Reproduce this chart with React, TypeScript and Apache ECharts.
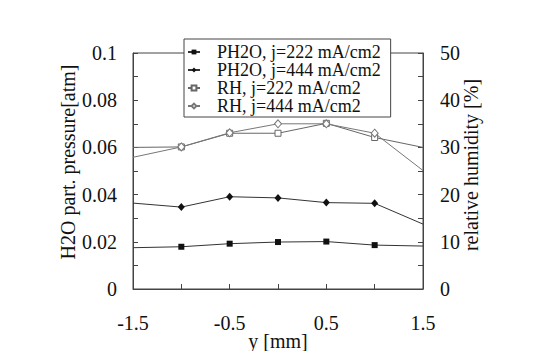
import React, { useEffect, useRef } from "react";
import * as echarts from "echarts";

const xPositions = [-1.5, -1, -0.5, 0, 0.5, 1, 1.5];
const ph2o222 = [0.0175, 0.0179, 0.0192, 0.0199, 0.0201, 0.0186, 0.0182];
const ph2o444 = [0.0364, 0.0347, 0.0391, 0.0386, 0.0366, 0.0363, 0.0275];
const rh222 = [30.0, 30.1, 33.0, 33.0, 35.1, 32.1, 30.0];
const rh444 = [27.9, 30.1, 33.1, 35.0, 35.0, 33.0, 25.1];
const seriesNames = [
  "PH2O, j=222 mA/cm2",
  "PH2O, j=444 mA/cm2",
  "RH, j=222 mA/cm2",
  "RH, j=444 mA/cm2",
];

const FONT = "Liberation Serif";

function toData(values: number[]) {
  return values.map((v, i) => {
    const edge = i === 0 || i === values.length - 1;
    return edge ? { value: [xPositions[i], v], symbol: "none" } : { value: [xPositions[i], v] };
  });
}

export default function App() {
  const ref = useRef<HTMLDivElement>(null);
  useEffect(() => {
    document.body.style.margin = "0";
    if (!ref.current) return;
    const chart = echarts.init(ref.current, undefined, { renderer: "svg" });
    const axisColor = "#444";
    const textColor = "#111";
    const tickCommon = {
      nameMoveOverlap: false,
      axisLine: { show: true, onZero: false, lineStyle: { color: axisColor, width: 1 } },
      axisTick: { show: true, inside: true, length: 5, lineStyle: { color: axisColor } },
      minorTick: { show: true, splitNumber: 2, length: 5, lineStyle: { color: axisColor } },
      splitLine: { show: false },
      axisLabel: { color: textColor, fontFamily: FONT, fontSize: 20 },
      nameTextStyle: { color: textColor, fontFamily: FONT, fontSize: 20 },
    };
    chart.setOption({
      animation: false,
      backgroundColor: "#fff",
      textStyle: { fontFamily: FONT },
      grid: {
        left: 133,
        right: 116,
        top: 53,
        bottom: 62,
        containLabel: false,
        outerBoundsMode: "none",
        show: true,
        borderColor: axisColor,
        borderWidth: 1,
        backgroundColor: "transparent",
      },
      legend: {
        orient: "vertical",
        left: 184,
        top: 39,
        data: seriesNames,
        backgroundColor: "#fff",
        borderColor: axisColor,
        borderWidth: 1,
        borderRadius: 0,
        padding: [4, 10, 2, 3],
        itemGap: 0,
        itemWidth: 12,
        itemHeight: 6,
        textStyle: { color: textColor, fontFamily: FONT, fontSize: 18, lineHeight: 17, padding: [0, 0, 0, 12] },
      },
      xAxis: {
        type: "value",
        min: -1.5,
        max: 1.5,
        interval: 1,
        name: "y [mm]",
        nameLocation: "middle",
        nameGap: 42,
        ...tickCommon,
        axisLabel: { ...tickCommon.axisLabel, margin: 24 },
      },
      yAxis: [
        {
          type: "value",
          min: 0,
          max: 0.1,
          interval: 0.02,
          name: "H2O part. pressure[atm]",
          nameLocation: "middle",
          nameRotate: 90,
          nameGap: 55,
          ...tickCommon,
          nameTextStyle: { ...tickCommon.nameTextStyle, padding: [0, 0, 0, 18] },
          axisLabel: { ...tickCommon.axisLabel, margin: 16 },
        },
        {
          type: "value",
          position: "right",
          min: 0,
          max: 50,
          interval: 10,
          name: "relative humidity [%]",
          nameLocation: "middle",
          nameRotate: 90,
          nameGap: 38,
          ...tickCommon,
          nameTextStyle: { ...tickCommon.nameTextStyle, padding: [0, 0, 0, 12] },
          axisLabel: { ...tickCommon.axisLabel, margin: 17 },
        },
      ],
      series: [
        {
          name: seriesNames[0],
          type: "line",
          yAxisIndex: 0,
          data: toData(ph2o222),
          symbol: "rect",
          symbolSize: 6,
          lineStyle: { color: "#333", width: 1 },
          itemStyle: { color: "#111", borderColor: "#111", borderWidth: 0 },
        },
        {
          name: seriesNames[1],
          type: "line",
          yAxisIndex: 0,
          data: toData(ph2o444),
          symbol: "diamond",
          symbolSize: [7, 8],
          lineStyle: { color: "#333", width: 1 },
          itemStyle: { color: "#111", borderColor: "#111", borderWidth: 0 },
        },
        {
          name: seriesNames[2],
          type: "line",
          yAxisIndex: 1,
          data: toData(rh222),
          symbol: "rect",
          symbolSize: 6,
          lineStyle: { color: "#666", width: 1 },
          itemStyle: { color: "#fff", borderColor: "#666", borderWidth: 1 },
        },
        {
          name: seriesNames[3],
          type: "line",
          yAxisIndex: 1,
          data: toData(rh444),
          symbol: "diamond",
          symbolSize: [7, 8],
          lineStyle: { color: "#777", width: 1 },
          itemStyle: { color: "#fff", borderColor: "#777", borderWidth: 1 },
        },
      ],
    });
    return () => chart.dispose();
  }, []);
  return <div ref={ref} style={{ width: 539, height: 351, overflow: "hidden" }} />;
}
